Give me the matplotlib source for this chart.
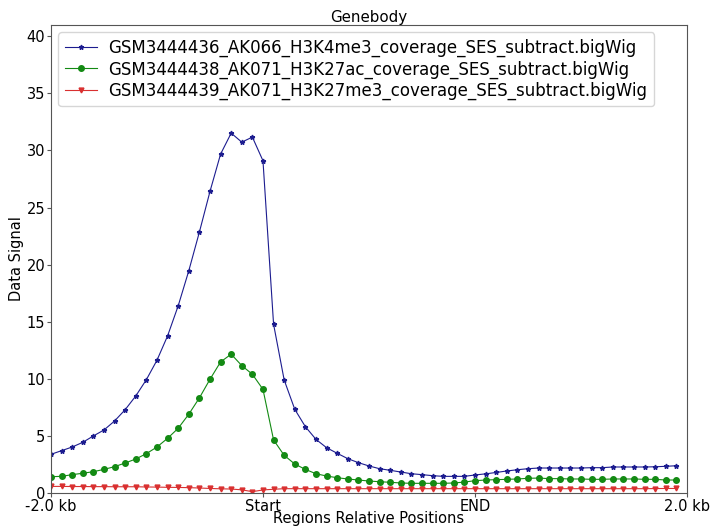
import numpy as np
import matplotlib
matplotlib.use("Agg")
import matplotlib.pyplot as plt

# profile values (60 bins: 20 upstream, 20 body, 20 downstream)
labels = ["GSM3444436_AK066_H3K4me3_coverage_SES_subtract.bigWig",
          "GSM3444438_AK071_H3K27ac_coverage_SES_subtract.bigWig",
          "GSM3444439_AK071_H3K27me3_coverage_SES_subtract.bigWig"]

h3k4me3 = [3.39, 3.71, 4.03, 4.44, 5.00, 5.52, 6.31, 7.30, 8.50, 9.93,
           11.63, 13.76, 16.39, 19.46, 22.85, 26.41, 29.68, 31.52, 30.73, 31.17,
           29.10, 14.78, 9.90, 7.33, 5.81, 4.70, 3.97, 3.48, 3.01, 2.66,
           2.37, 2.13, 1.99, 1.84, 1.69, 1.61, 1.52, 1.46, 1.46, 1.46,
           1.58, 1.68, 1.80, 1.93, 2.04, 2.13, 2.19, 2.19, 2.19, 2.19,
           2.19, 2.22, 2.22, 2.28, 2.28, 2.28, 2.28, 2.30, 2.34, 2.39]

h3k27ac = [1.43, 1.46, 1.61, 1.73, 1.87, 2.07, 2.31, 2.63, 2.98, 3.45,
           4.03, 4.79, 5.67, 6.90, 8.33, 9.96, 11.48, 12.16, 11.16, 10.40,
           9.08, 4.65, 3.30, 2.54, 2.07, 1.69, 1.49, 1.34, 1.23, 1.14,
           1.05, 0.99, 0.94, 0.88, 0.85, 0.85, 0.85, 0.85, 0.88, 0.96,
           1.08, 1.14, 1.17, 1.20, 1.23, 1.29, 1.31, 1.26, 1.26, 1.23,
           1.23, 1.20, 1.20, 1.23, 1.23, 1.23, 1.20, 1.20, 1.14, 1.14]

h3k27me3 = [0.58, 0.58, 0.57, 0.57, 0.56, 0.56, 0.55, 0.55, 0.55, 0.53,
            0.52, 0.50, 0.49, 0.47, 0.44, 0.40, 0.37, 0.35, 0.28, 0.12,
            0.27, 0.33, 0.38, 0.38, 0.38, 0.38, 0.38, 0.38, 0.38, 0.38,
            0.38, 0.38, 0.38, 0.38, 0.38, 0.38, 0.38, 0.38, 0.38, 0.38,
            0.38, 0.38, 0.38, 0.38, 0.38, 0.38, 0.38, 0.38, 0.38, 0.38,
            0.38, 0.38, 0.38, 0.38, 0.38, 0.38, 0.38, 0.39, 0.40, 0.40]

tick_pos = [0, 20, 40, 60]
tick_labels = ["-2.0 kb", "Start", "END", "2.0 kb"]

fig = plt.figure(figsize=(7.11, 5.29), dpi=100)
ax = fig.add_axes([0.0717, 0.068, 0.8945, 0.885])

x = np.arange(len(h3k4me3))
ax.plot(x, h3k4me3, color="#1c1c8f", marker="*", markersize=3.5, lw=0.8, label=labels[0])
ax.plot(x, h3k27ac, color="#138a13", marker="o", markersize=4, lw=0.8, label=labels[1])
ax.plot(x, h3k27me3, color="#d93030", marker="v", markersize=3.5, lw=0.8, label=labels[2])

ax.set_xlim(0, 60)
ax.set_ylim(0, 41)
ax.set_xticks(tick_pos)
ax.set_xticklabels(tick_labels)
ax.tick_params(labelsize=10.5, color="#555555", length=3, pad=1)
for s in ax.spines.values():
    s.set_color("#555555")

ax.set_title("Genebody", fontsize=10.8, pad=2)
ax.set_xlabel("Regions Relative Positions", fontsize=10.5, labelpad=-2)
ax.set_ylabel("Data Signal", fontsize=10.5, labelpad=2)
ax.legend(loc="upper left", fontsize=12, handlelength=1.9, handletextpad=0.7,
          labelspacing=0.18, borderaxespad=0.45)

fig.savefig("out.png", dpi=100)
